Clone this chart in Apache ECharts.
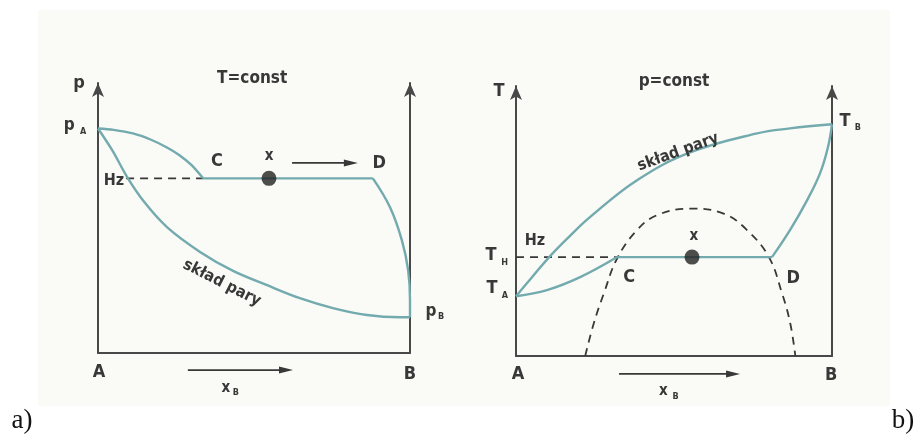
<!DOCTYPE html>
<html>
<head>
<meta charset="utf-8">
<script src="https://cdn.jsdelivr.net/npm/echarts@6/dist/echarts.min.js"></script>
<style>
  html, body { margin: 0; padding: 0; background: #ffffff; }
  #c { width: 917px; height: 439px; }
</style>
</head>
<body>
<div id="c"></div>
<script>
// ---- Panel a: p vs x_B at T = const (composition in mole fraction, p in relative units) ----
const aLiquid  = [[0, 81.5], [0.05, 81.0], [0.112, 79.7], [0.17, 77.4], [0.221, 74.6], [0.26, 71.9],
                  [0.30, 68.2], [0.337, 63.4]];
const aVapour  = [[0, 81.5], [0.045, 73.7], [0.096, 63.4], [0.151, 54.4], [0.221, 45.7], [0.327, 36.7],
                  [0.433, 29.8], [0.542, 24.6], [0.647, 19.9], [0.753, 16.3], [0.862, 13.8], [0.968, 13.0], [1, 13.0]];
const aTie     = [[0.337, 63.4], [0.881, 63.4]];
const aBranch  = [[0.881, 63.4], [0.936, 52.9], [0.974, 40.9], [0.994, 30.1], [1, 19.2], [1, 13.0]];
const aHzLine  = [[0.09, 63.4], [0.337, 63.4]];
const aPoint   = [[0.548, 63.4]];

// ---- Panel b: T vs x_B at p = const ----
const bVapour  = [[0, 21.7], [0.05, 28.5], [0.105, 35.9], [0.17, 43.5], [0.234, 50.4], [0.383, 63.8],
                  [0.551, 73.9], [0.763, 80.8], [0.867, 82.6], [1, 84.1]];
const bLiquid  = [[0, 21.7], [0.098, 23.9], [0.203, 28.6], [0.320, 35.9]];
const bTie     = [[0.320, 35.9], [0.810, 35.9]];
const bBranch  = [[0.810, 35.9], [0.867, 45.7], [0.921, 56.5], [0.962, 66.3], [0.987, 75.7], [1, 84.1]];
const bTHLine  = [[0, 35.9], [0.320, 35.9]];
const bDome    = [[0.219, 0], [0.246, 11.8], [0.278, 22.7], [0.320, 35.4], [0.383, 45.7], [0.446, 51.1],
                  [0.551, 53.5], [0.657, 51.7], [0.731, 45.7], [0.800, 36.0], [0.842, 22.7], [0.868, 11.8], [0.884, 0]];
const bPoint   = [[0.557, 35.9]];

// ---- Annotation texts, anchored in each panel's data units ----
const labelsA = [
  { t: 'p', at: [-0.061, 98.0], size: 18 },
  { t: 'p', at: [-0.092, 82.6], size: 17 },
  { t: 'A', at: [-0.048, 80.2], size: 9 },
  { t: 'T=const', at: [0.494, 99.5], size: 17 },
  { t: 'C', at: [0.381, 69.7], size: 18 },
  { t: 'x', at: [0.548, 71.3], size: 15 },
  { t: 'D', at: [0.901, 69.0], size: 18 },
  { t: 'Hz', at: [0.051, 62.4], size: 16 },
  { t: 'skład pary', at: [0.397, 25.4], size: 16, rot: -27 },
  { t: 'p', at: [1.067, 15.2], size: 17 },
  { t: 'B', at: [1.100, 13.2], size: 9 },
  { t: 'A', at: [0.003, -6.9], size: 18 },
  { t: 'B', at: [1.0, -7.6], size: 18 },
  { t: 'x', at: [0.41, -12.9], size: 15 },
  { t: 'B', at: [0.442, -14.4], size: 9 }
];
const labelsB = [
  { t: 'T', at: [-0.054, 96.2], size: 18 },
  { t: 'p=const', at: [0.5, 99.5], size: 17 },
  { t: 'T', at: [1.041, 85.3], size: 18 },
  { t: 'B', at: [1.082, 82.9], size: 9 },
  { t: 'skład pary', at: [0.513, 74.0], size: 16, rot: 20 },
  { t: 'Hz', at: [0.060, 41.7], size: 16 },
  { t: 'x', at: [0.563, 43.6], size: 15 },
  { t: 'T', at: [-0.079, 36.7], size: 18 },
  { t: 'H', at: [-0.036, 33.9], size: 9 },
  { t: 'C', at: [0.358, 28.7], size: 18 },
  { t: 'D', at: [0.877, 28.3], size: 18 },
  { t: 'T', at: [-0.076, 24.7], size: 18 },
  { t: 'A', at: [-0.035, 21.8], size: 9 },
  { t: 'A', at: [0.006, -6.5], size: 18 },
  { t: 'B', at: [0.997, -6.9], size: 18 },
  { t: 'x', at: [0.466, -12.9], size: 15 },
  { t: 'B', at: [0.505, -14.6], size: 9 }
];
const arrowsA = [[[0.622, 69.0], [0.833, 69.0]], [[0.288, -6.2], [0.625, -6.2]]];
const arrowsB = [[[0.326, -6.5], [0.709, -6.5]]];

const INK = '#383838';
const AXIS = '#484848';
const CURVE = '#72aaae';
const FONT = '"Liberation Sans Narrow", "DejaVu Sans Condensed", "DejaVu Sans", sans-serif';

const chart = echarts.init(document.getElementById('c'), null, { renderer: 'canvas' });

function xAxisFor(grid) {
  return {
    type: 'value', gridIndex: grid, min: 0, max: 1,
    axisLine: { show: true, lineStyle: { color: AXIS, width: 2 } },
    axisTick: { show: false }, axisLabel: { show: false }, splitLine: { show: false }
  };
}
function yAxisFor(grid, side) {
  return {
    type: 'value', gridIndex: grid, min: 0, max: 98, position: side,
    axisLine: { show: true, symbol: ['none', 'arrow'], symbolSize: [9, 14], lineStyle: { color: AXIS, width: 2 } },
    axisTick: { show: false }, axisLabel: { show: false }, splitLine: { show: false }
  };
}
function curve(xi, yi, data, smooth, extra) {
  return Object.assign({
    type: 'line', xAxisIndex: xi, yAxisIndex: yi, data: data, smooth: smooth,
    showSymbol: false, clip: false, silent: true,
    lineStyle: { color: CURVE, width: 2.4 }
  }, extra || {});
}
const dashed = { lineStyle: { color: INK, width: 1.8, type: [8, 6] } };
function dot(xi, yi, data) {
  return { type: 'scatter', xAxisIndex: xi, yAxisIndex: yi, data: data, symbolSize: 15,
           itemStyle: { color: '#222222' }, silent: true, z: 5 };
}

chart.setOption({
  animation: false,
  backgroundColor: '#ffffff',
  grid: [
    { left: 98, top: 83, width: 312, height: 270 },
    { left: 516, top: 86, width: 316, height: 270 }
  ],
  xAxis: [xAxisFor(0), xAxisFor(1)],
  yAxis: [yAxisFor(0, 'left'), yAxisFor(0, 'right'), yAxisFor(1, 'left'), yAxisFor(1, 'right')],
  series: [
    curve(0, 0, aHzLine, false, dashed),
    curve(0, 0, aLiquid, 0.3),
    curve(0, 0, aVapour, 0.35),
    curve(0, 0, aTie, false),
    curve(0, 0, aBranch, 0.4),
    dot(0, 0, aPoint),
    curve(1, 2, bTHLine, false, dashed),
    curve(1, 2, bDome, 0.4, dashed),
    curve(1, 2, bVapour, 0.4),
    curve(1, 2, bLiquid, 0.4),
    curve(1, 2, bTie, false),
    curve(1, 2, bBranch, 0.4),
    dot(1, 2, bPoint)
  ]
});

// Annotations placed through each panel's own coordinate system
function toPx(panel, pt) {
  return chart.convertToPixel({ xAxisIndex: panel, yAxisIndex: panel * 2 }, pt);
}
const graphics = [
  { type: 'rect', z: -10, silent: true, shape: { x: 38, y: 10, width: 852, height: 396 }, style: { fill: '#fafaf6' } }
];
function addLabels(panel, list) {
  list.forEach(function (l) {
    const p = toPx(panel, l.at);
    graphics.push({
      type: 'text', x: p[0], y: p[1], z: 20, silent: true,
      rotation: (l.rot || 0) * Math.PI / 180,
      style: {
        text: l.t, fill: INK, align: 'center', verticalAlign: 'middle',
        font: 'bold ' + l.size + 'px ' + FONT
      }
    });
  });
}
function addArrows(panel, list) {
  list.forEach(function (a) {
    const p = toPx(panel, a[0]), q = toPx(panel, a[1]);
    const L = 14, W = 3.5;
    graphics.push({ type: 'line', z: 20, silent: true,
      shape: { x1: p[0], y1: p[1], x2: q[0] - L + 2, y2: q[1] },
      style: { stroke: INK, lineWidth: 1.6 } });
    graphics.push({ type: 'polygon', z: 20, silent: true,
      shape: { points: [[q[0], q[1]], [q[0] - L, q[1] - W], [q[0] - L, q[1] + W]] },
      style: { fill: INK } });
  });
}
addLabels(0, labelsA);
addLabels(1, labelsB);
addArrows(0, arrowsA);
addArrows(1, arrowsB);
graphics.push({ type: 'text', x: 22, y: 421, z: 20, silent: true,
  style: { text: 'a)', fill: '#111111', align: 'center', verticalAlign: 'middle', font: '27px "Liberation Serif", serif' } });
graphics.push({ type: 'text', x: 903, y: 421, z: 20, silent: true,
  style: { text: 'b)', fill: '#111111', align: 'center', verticalAlign: 'middle', font: '27px "Liberation Serif", serif' } });

chart.setOption({ graphic: graphics });
</script>
</body>
</html>
